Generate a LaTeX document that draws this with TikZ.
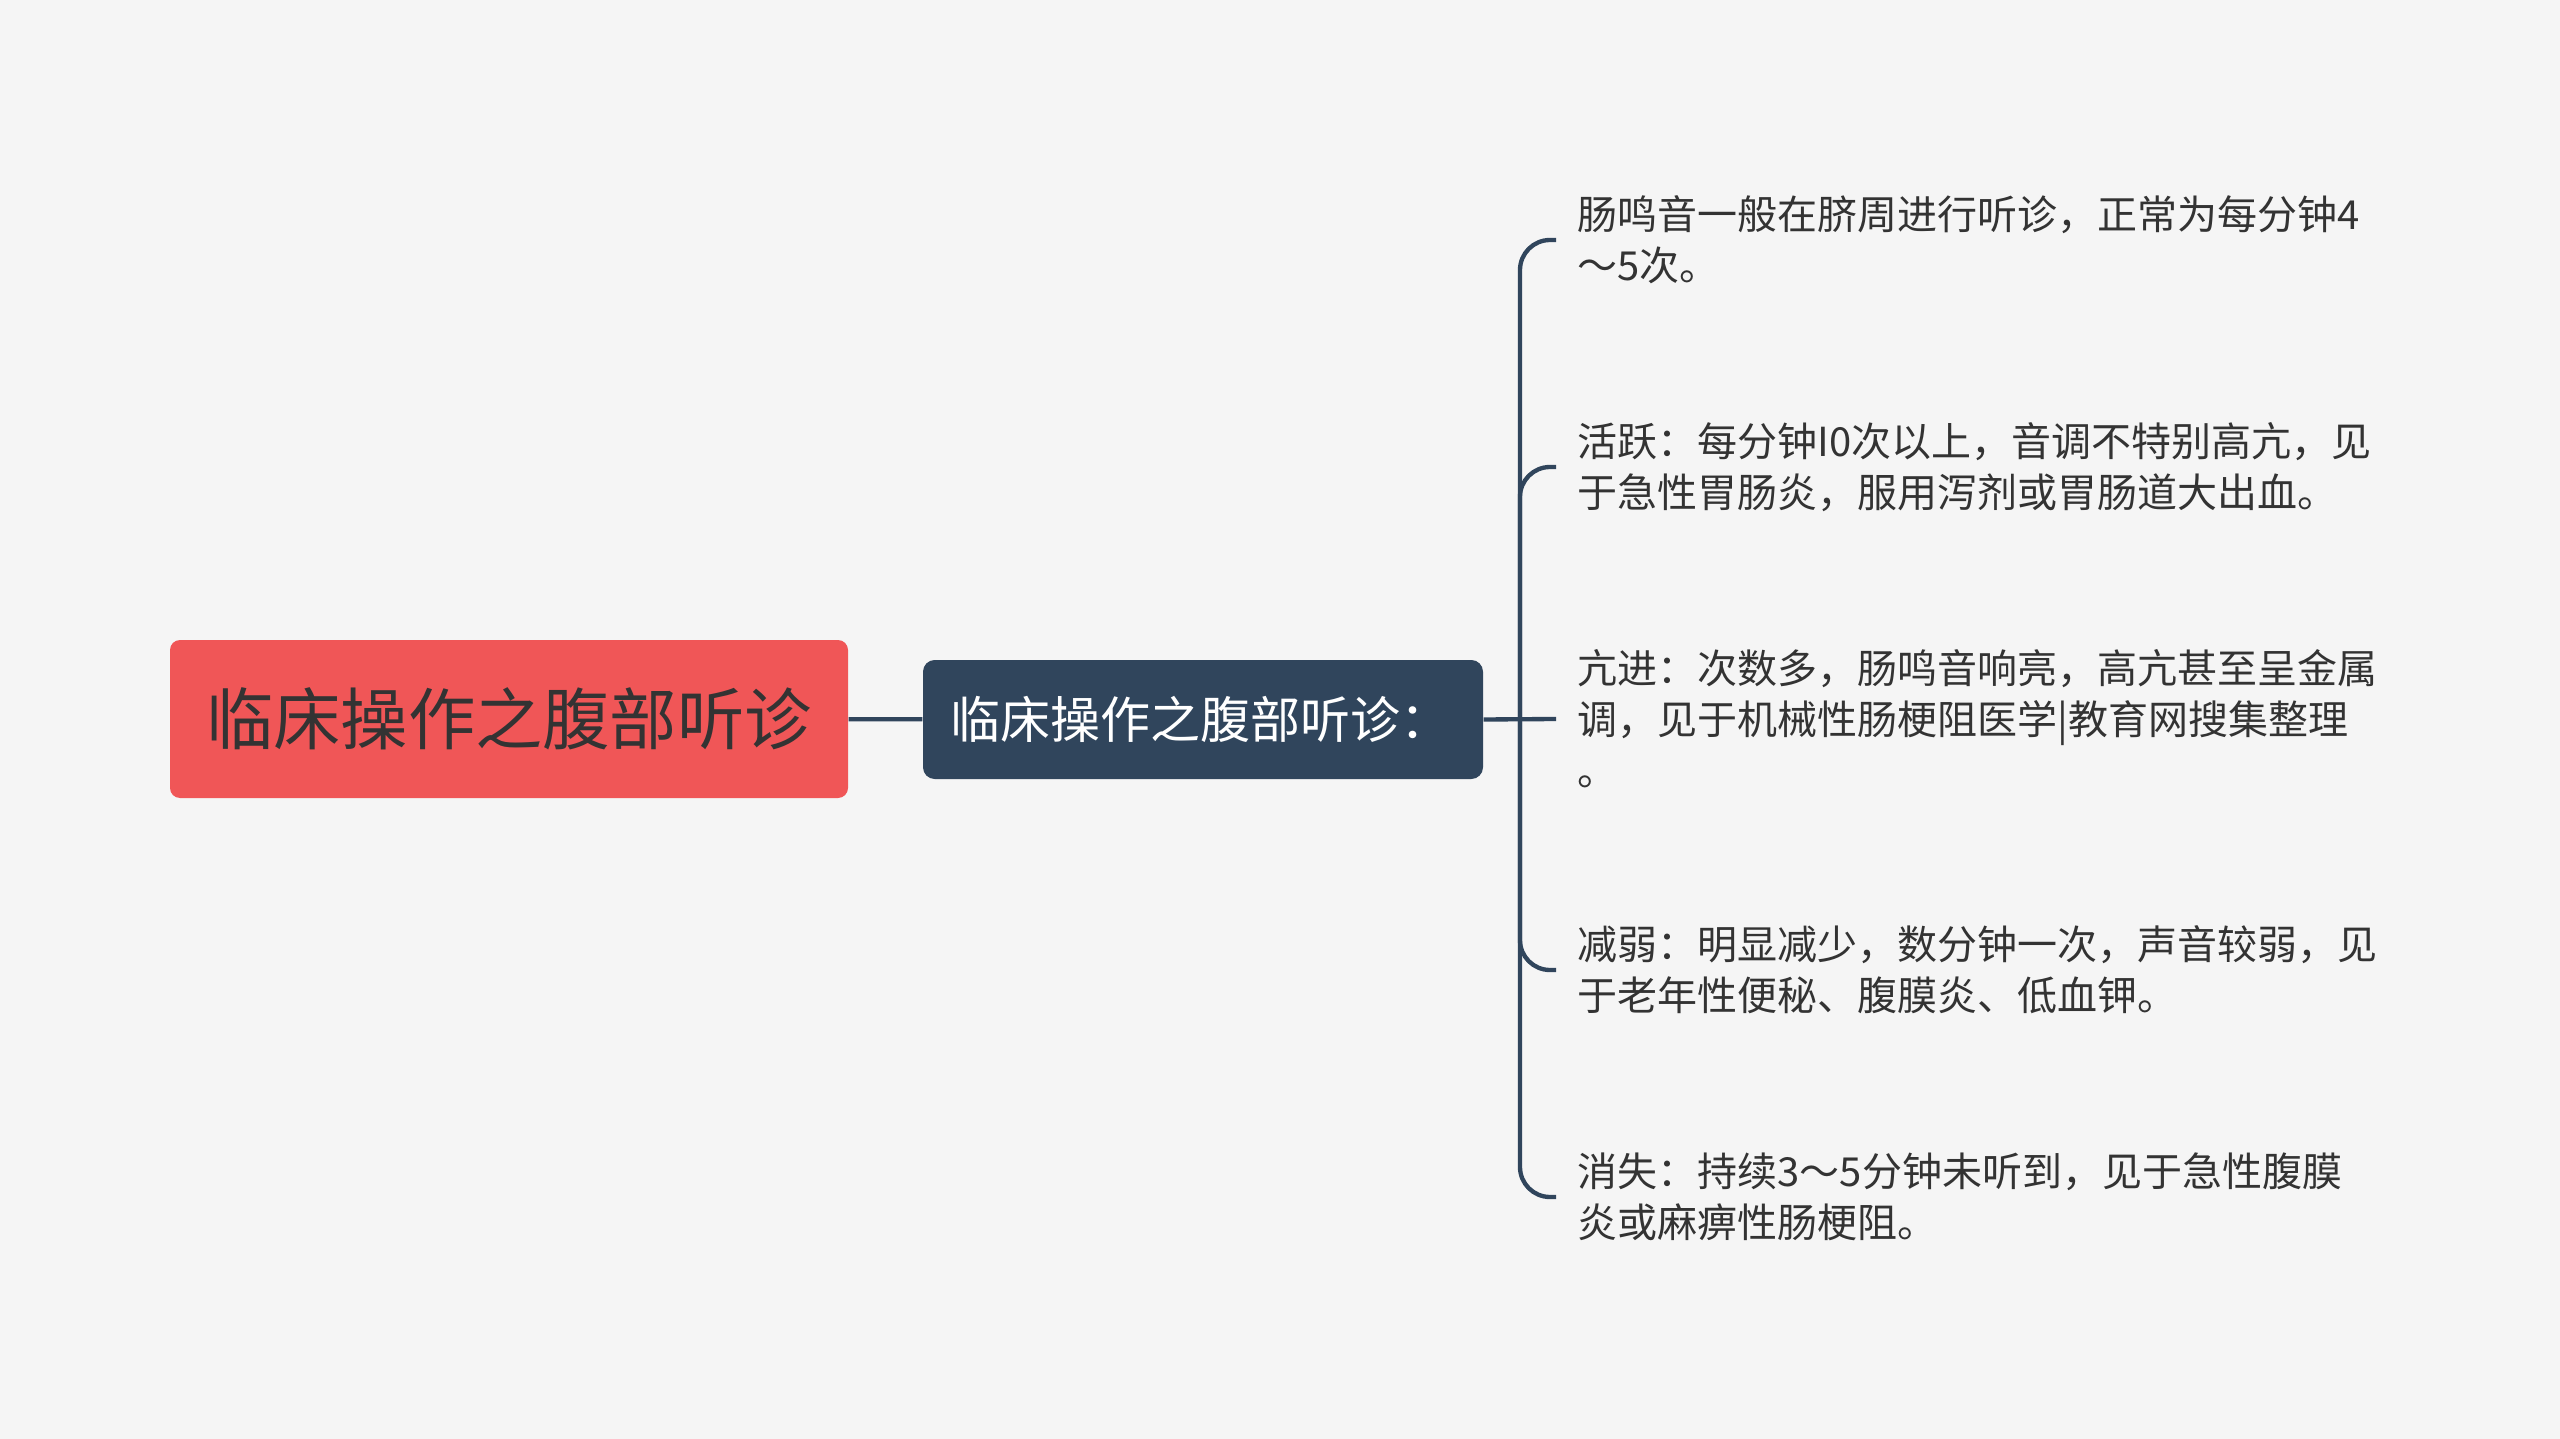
\documentclass[tikz,border=0pt]{standalone}
\usepackage{fontspec}
\setmainfont{Noto Sans CJK SC}
\definecolor{bg}{HTML}{F5F5F5}
\definecolor{rootred}{HTML}{F05657}
\definecolor{navy}{HTML}{30455C}
\definecolor{txt}{HTML}{333333}
\begin{document}
\begin{tikzpicture}[x=0.3pt,y=-0.3pt,
  rootbox/.style={fill=rootred, rounded corners=3pt, minimum width=203.4pt, minimum height=47.4pt, inner sep=0pt, text=txt, font=\fontsize{20.2pt}{24pt}\selectfont},
  midbox/.style={fill=navy, rounded corners=3.5pt, text width=151.8pt, inner xsep=8.1pt, minimum height=35.7pt, inner ysep=0pt, text=white, align=left, font=\fontsize{15pt}{18pt}\selectfont},
  leaf/.style={anchor=west, inner xsep=6.3pt, inner ysep=0pt, align=left, text=txt, font=\fontsize{12pt}{15.3pt}\selectfont},
  link/.style={draw=navy, line width=1.3pt},
  ]
\fill[bg] (0,0) rectangle (2560,1439);
\useasboundingbox (0,0) rectangle (2560,1439);

\node[rootbox] (root) at (509,719) {临床操作之腹部听诊};
\node[midbox] (mid) at (1203,719.5) {临床操作之腹部听诊：};

\node[leaf] (l1) at (1556,240) {肠鸣音一般在脐周进行听诊，正常为每分钟4\\～5次。};
\node[leaf] (l2) at (1556,467) {活跃：每分钟I0次以上，音调不特别高亢，见\\于急性胃肠炎，服用泻剂或胃肠道大出血。};
\node[leaf] (l3) at (1556,719) {亢进：次数多，肠鸣音响亮，高亢甚至呈金属\\调，见于机械性肠梗阻医学|教育网搜集整理\\。};
\node[leaf] (l4) at (1556,970) {减弱：明显减少，数分钟一次，声音较弱，见\\于老年性便秘、腹膜炎、低血钾。};
\node[leaf] (l5) at (1556,1197) {消失：持续3～5分钟未听到，见于急性腹膜\\炎或麻痹性肠梗阻。};

\coordinate (fork) at (1520,719);
\draw[link] (root) -- (mid);
\draw[link] (mid.east) -- (l3.west);
\foreach \n in {l1,l2,l4,l5} \draw[link, rounded corners=9pt] (fork) |- (\n.west);
\end{tikzpicture}
\end{document}
